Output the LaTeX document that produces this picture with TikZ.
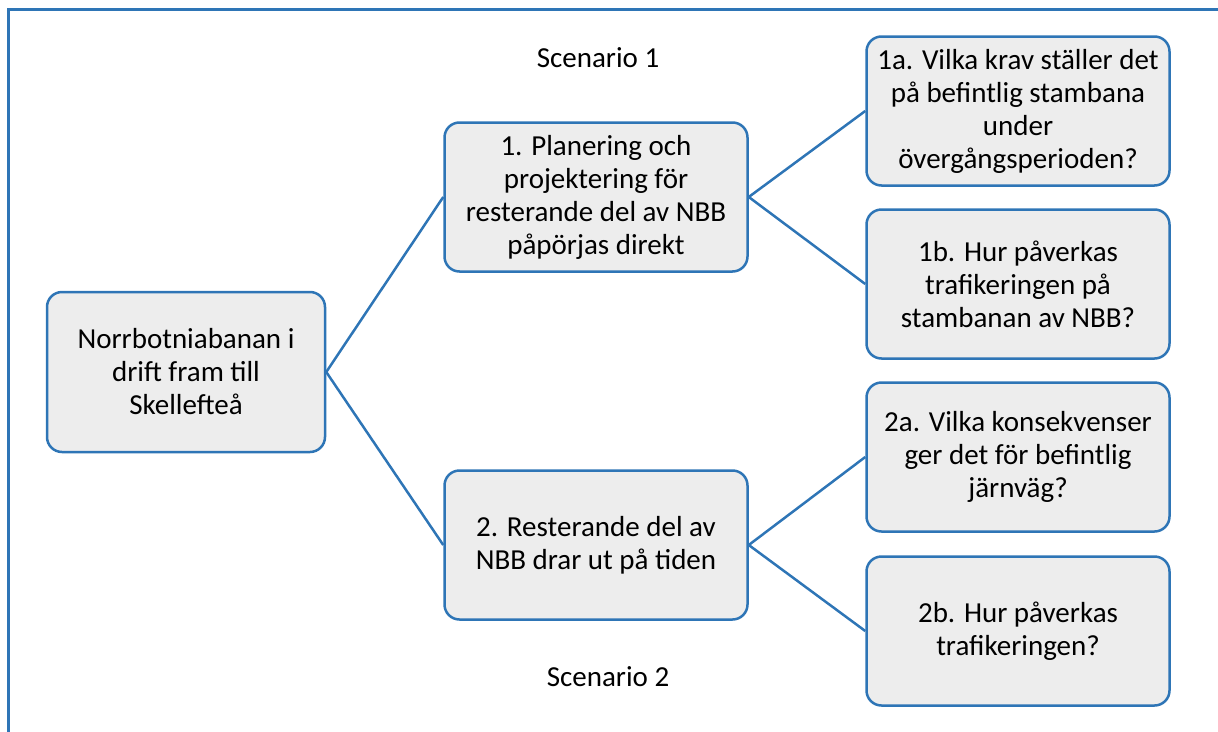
\documentclass[tikz,border=0pt]{standalone}
\usepackage{fontspec}
\setmainfont{Carlito}
\usepackage{tikz}
\usetikzlibrary{positioning}
\definecolor{boxfill}{RGB}{237, 237, 237}
\definecolor{boxline}{RGB}{46, 117, 182}

\begin{document}
\begin{tikzpicture}[x=1pt, y=-1pt,
    box/.style={draw=boxline, fill=boxfill, line width=2.5pt, rounded corners=15pt,
        minimum width=303pt, minimum height=149pt, align=center, inner sep=4pt,
        font=\fontsize{29}{33}\selectfont},
    rootbox/.style={box, minimum width=278pt, minimum height=160pt},
    link/.style={draw=boxline, line width=2.5pt},
    lbl/.style={font=\fontsize{29}{33}\selectfont}]
    \useasboundingbox (0,0) rectangle (1218,731);

    % Frame
    \draw[boxline, line width=3pt] (8,740) -- (8,9) -- (1230,9);

    % Root
    \node[rootbox] (root) at (186, 372) {Norrbotniabanan i\\drift fram till\\Skellefteå};

    % Scenarios
    \node[box] (plan) at (596, 197) {1. Planering och\\projektering för\\resterande del av NBB\\påpörjas direkt};
    \node[box] (delay) at (596, 545) {2. Resterande del av\\NBB drar ut på tiden};
    \node[lbl] (scen1) at (598, 58) {Scenario 1};
    \node[lbl] (scen2) at (608, 677) {Scenario 2};

    % Questions
    \node[box] (q1a) at (1018, 111) {1a. Vilka krav ställer det\\på befintlig stambana\\under\\övergångsperioden?};
    \node[box] (q1b) at (1018, 284) {1b. Hur påverkas\\trafikeringen på\\stambanan av NBB?};
    \node[box] (q2a) at (1018, 457) {2a. Vilka konsekvenser\\ger det för befintlig\\järnväg?};
    \node[box] (q2b) at (1018, 631) {2b. Hur påverkas\\trafikeringen?};

    % Connectors
    \draw[link] (root.east) -- (plan.west);
    \draw[link] (root.east) -- (delay.west);
    \draw[link] (plan.east) -- (q1a.west);
    \draw[link] (plan.east) -- (q1b.west);
    \draw[link] (delay.east) -- (q2a.west);
    \draw[link] (delay.east) -- (q2b.west);
\end{tikzpicture}
\end{document}
